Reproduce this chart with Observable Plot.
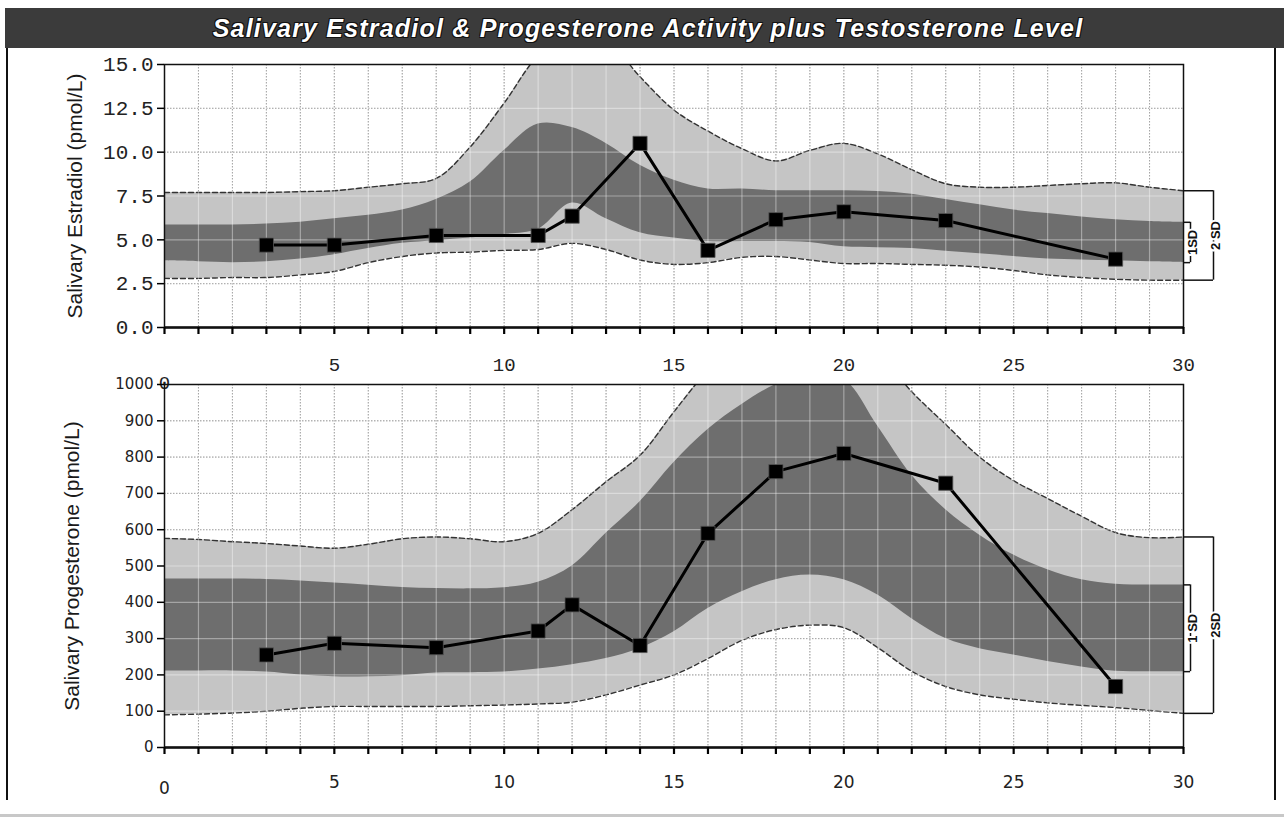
<!DOCTYPE html>
<html>
<head>
<meta charset="utf-8">
<script src="https://cdn.jsdelivr.net/npm/d3@7"></script>
<script src="https://cdn.jsdelivr.net/npm/@observablehq/plot@0.6"></script>
<style>
  html, body { margin: 0; padding: 0; background: #ffffff; }
  #page { position: relative; width: 1284px; height: 821px; overflow: hidden; background: #fff; }
  #banner { position: absolute; left: 5px; top: 8px; width: 1279px; height: 40px; background: #3b3b3b;
            color: #fff; font-family: "Liberation Sans", Arial, sans-serif; font-weight: bold; font-style: italic;
            font-size: 25px; letter-spacing: 1.2px; line-height: 40px; text-align: center; box-sizing: border-box; padding-left: 7px;
            text-shadow: -1px -1px 0 #111, 1px -1px 0 #111, -1px 1px 0 #111, 1px 1px 0 #111; white-space: nowrap; }
  .vline { position: absolute; top: 48px; width: 2px; height: 752px; background: #111; }
  #scanline { position: absolute; left: 0; top: 814px; width: 1284px; height: 3px; background: #c8c8c8; }
  .panel { position: absolute; left: 0; }
  .panel svg { overflow: visible; }
</style>
</head>
<body>
<div id="page">
  <div id="banner">Salivary Estradiol &amp; Progesterone Activity plus Testosterone Level</div>
  <div class="vline" style="left:6px"></div>
  <div class="vline" style="left:1274px"></div>
  <div id="scanline"></div>
  <div class="panel" id="top" style="top:50px"></div>
  <div class="panel" id="bottom" style="top:376px"></div>
</div>
<script>
// ---------- data ----------
const bandDays = [0,1,2,3,4,5,6,7,8,9,10,11,12,13,14,15,16,17,18,19,20,21,22,23,24,25,26,27,28,29,30];

// Estradiol reference bands (pmol/L)
const e2Upper2SD = [7.7,7.7,7.7,7.7,7.75,7.8,8.0,8.2,8.5,10.3,12.8,15.5,16.8,16.4,14.3,12.4,11.2,10.2,9.5,10.1,10.5,9.9,9.0,8.2,8.0,8.0,8.1,8.2,8.25,8.0,7.8];
const e2Upper1SD = [5.85,5.85,5.85,5.9,6.0,6.2,6.4,6.7,7.3,8.3,10.1,11.6,11.4,10.5,9.25,8.4,7.9,7.9,7.8,7.8,7.8,7.75,7.6,7.3,7.0,6.7,6.5,6.3,6.15,6.05,6.0];
const e2Lower1SD = [3.8,3.75,3.7,3.75,3.9,4.15,4.5,4.8,4.95,5.1,5.3,5.6,7.1,6.2,5.4,5.1,4.9,4.9,4.9,4.85,4.6,4.55,4.5,4.35,4.2,4.05,3.9,3.85,3.8,3.75,3.7];
const e2Lower2SD = [2.8,2.8,2.85,2.85,3.0,3.2,3.7,4.05,4.25,4.3,4.4,4.45,4.8,4.45,3.85,3.6,3.7,4.0,4.05,3.85,3.65,3.65,3.6,3.55,3.45,3.25,3.0,2.85,2.75,2.7,2.7];

// Progesterone reference bands (pmol/L)
const pUpper2SD = [576,573,567,562,555,549,560,575,580,575,567,590,655,732,805,925,1040,1130,1180,1190,1160,1090,980,890,800,735,686,637,592,578,580];
const pUpper1SD = [464,464,464,463,459,453,447,441,438,437,440,455,500,590,677,785,876,945,1000,1030,1015,885,750,655,585,530,490,462,450,448,448];
const pLower1SD = [211,211,211,208,200,195,195,198,205,206,208,216,228,245,273,319,383,429,462,475,462,420,355,300,272,255,237,222,210,209,209];
const pLower2SD = [90,92,95,100,108,113,113,113,113,115,117,120,125,145,172,200,245,295,325,337,330,275,210,168,145,133,123,116,110,102,94];

// Patient samples
const sampleDays   = [3,5,8,11,12,14,16,18,20,23,28];
const estradiol    = [4.7,4.7,5.25,5.25,6.35,10.5,4.4,6.15,6.6,6.1,3.9];
const progesterone = [255,287,275,321,393,281,590,760,810,728,168];

// Axis ticks / labels
const e2Ticks = [0,2.5,5,7.5,10,12.5,15];
const pTicks = [0,100,200,300,400,500,600,700,800,900,1000];
const dayLabels = [5,10,15,20,25,30];
const dayZero = [0];
const e2Title = "Salivary Estradiol (pmol/L)";
const pTitle = "Salivary Progesterone (pmol/L)";
const sdLabelsTop = ["1SD", "2 SD"];
const sdLabelsBottom = ["1 SD", "2SD"];

// ---------- helpers ----------
function bandRows(hi2, hi1, lo1, lo2) {
  return bandDays.map((d, i) => ({day: d, hi2: hi2[i], hi1: hi1[i], lo1: lo1[i], lo2: lo2[i]}));
}
function sampleRows(vals) {
  return sampleDays.map((d, i) => ({day: d, v: vals[i]}));
}

function panel({bands, samples, yDomain, yTicks, yFormat, yFont, yFontSize, xFont, xFontSize,
                title, titleSize, sdLabels, height, marginTop, marginBottom, xPad, zeroPad, titleDx}) {
  const last = bands[bands.length - 1];
  const curve = "catmull-rom";
  const gridDash = "1.5,1.5";
  const sans = "Liberation Sans, Arial, sans-serif";
  return Plot.plot({
    width: 1284,
    height,
    marginLeft: 164,
    marginRight: 101,
    marginTop,
    marginBottom,
    style: {background: "transparent", overflow: "visible"},
    x: {domain: [0, 30], label: null},
    y: {domain: yDomain, label: null},
    marks: [
      // dotted grid underneath
      Plot.gridX(bandDays, {stroke: "#5a5a5a", strokeOpacity: 0.9, strokeDasharray: gridDash, strokeWidth: 1}),
      Plot.gridY(yTicks, {stroke: "#5a5a5a", strokeOpacity: 0.9, strokeDasharray: gridDash, strokeWidth: 1}),
      // 2 SD band
      Plot.areaY(bands, {x: "day", y1: "lo2", y2: "hi2", fill: "#c5c5c5", curve, clip: true}),
      // 1 SD band
      Plot.areaY(bands, {x: "day", y1: "lo1", y2: "hi1", fill: "#6e6e6e", curve, clip: true}),
      // dashed 2 SD edges
      Plot.line(bands, {x: "day", y: "hi2", stroke: "#333", strokeWidth: 1.4, strokeDasharray: "5,3", curve, clip: true}),
      Plot.line(bands, {x: "day", y: "lo2", stroke: "#333", strokeWidth: 1.4, strokeDasharray: "5,3", curve, clip: true}),
      // light grid showing through the bands
      Plot.gridX(bandDays, {stroke: "#ffffff", strokeOpacity: 0.38, strokeWidth: 1.2}),
      Plot.gridY(yTicks, {stroke: "#ffffff", strokeOpacity: 0.38, strokeWidth: 1.2}),
      // frame and axes
      Plot.frame({stroke: "#111", strokeWidth: 1.5}),
      Plot.ruleY(yDomain.slice(0, 1), {stroke: "#111", strokeWidth: 2.5}),
      Plot.axisY({ticks: yTicks, tickFormat: yFormat, tickSize: 7, tickPadding: 4, strokeWidth: 1.5,
                  fontSize: yFontSize, fontFamily: yFont, fill: "#222", label: null}),
      Plot.axisX({ticks: bandDays, tickFormat: () => "", tickSize: 7, strokeWidth: 2.2, label: null}),
      Plot.axisX({ticks: dayLabels, tickSize: 0, tickPadding: xPad, fontSize: xFontSize, fontFamily: xFont, fill: "#222", label: null}),
      Plot.axisX({ticks: dayZero, tickSize: 0, tickPadding: zeroPad, fontSize: xFontSize, fontFamily: xFont, fill: "#222", label: null}),
      // y-axis title
      Plot.text([title], {frameAnchor: "left", dx: titleDx, rotate: -90, textAnchor: "middle", lineAnchor: "middle",
                          fontSize: titleSize, fontFamily: sans, fill: "#1a1a1a"}),
      // patient line + squares
      Plot.line(samples, {x: "day", y: "v", stroke: "#000", strokeWidth: 3}),
      Plot.dot(samples, {x: "day", y: "v", symbol: "square", r: 8, fill: "#000", stroke: "#555", strokeWidth: 0.8}),
      // SD brackets at the right edge (values = band at day 30)
      Plot.ruleY([last.hi1, last.lo1], {x1: last.day, x2: last.day, insetRight: -7, stroke: "#111", strokeWidth: 1.5}),
      Plot.ruleX([last.day], {y1: last.lo1, y2: last.hi1, dx: 7, stroke: "#111", strokeWidth: 1.5}),
      Plot.ruleY([last.hi2, last.lo2], {x1: last.day, x2: last.day, insetRight: -30, stroke: "#111", strokeWidth: 1.5}),
      Plot.ruleX([last.day], {y1: last.lo2, y2: last.hi2, dx: 30, stroke: "#111", strokeWidth: 1.5}),
      Plot.text([sdLabels[0]], {x: last.day, y: (last.hi1 + last.lo1) / 2, dx: 9, rotate: -90, fontSize: 13,
                                fontWeight: "bold", fontFamily: sans,
                                fill: "#111", stroke: "#fff", strokeWidth: 4, paintOrder: "stroke"}),
      Plot.text([sdLabels[1]], {x: last.day, y: (last.hi2 + last.lo2) / 2, dx: 32, rotate: -90, fontSize: 13,
                                fontWeight: "bold", fontFamily: sans,
                                fill: "#111", stroke: "#fff", strokeWidth: 4, paintOrder: "stroke"})
    ]
  });
}

const topPlot = panel({
  bands: bandRows(e2Upper2SD, e2Upper1SD, e2Lower1SD, e2Lower2SD),
  samples: sampleRows(estradiol),
  yDomain: [0, 15],
  yTicks: e2Ticks,
  yFormat: d => d.toFixed(1),
  yFont: "Liberation Mono, Courier New, monospace",
  yFontSize: 21,
  xFont: "Liberation Mono, Courier New, monospace",
  xFontSize: 19,
  title: e2Title,
  titleSize: 21,
  sdLabels: sdLabelsTop,
  height: 340,
  marginTop: 14,
  marginBottom: 63,
  xPad: 30,
  zeroPad: 48,
  titleDx: -89
});

const bottomPlot = panel({
  bands: bandRows(pUpper2SD, pUpper1SD, pLower1SD, pLower2SD),
  samples: sampleRows(progesterone),
  yDomain: [0, 1000],
  yTicks: pTicks,
  yFormat: d => String(d),
  yFont: "DejaVu Sans, Verdana, sans-serif",
  yFontSize: 15,
  xFont: "DejaVu Sans, Verdana, sans-serif",
  xFontSize: 17,
  title: pTitle,
  titleSize: 21,
  sdLabels: sdLabelsBottom,
  height: 430,
  marginTop: 8,
  marginBottom: 59,
  xPad: 28,
  zeroPad: 34,
  titleDx: -92
});

document.getElementById("top").appendChild(topPlot);
document.getElementById("bottom").appendChild(bottomPlot);
</script>
</body>
</html>
